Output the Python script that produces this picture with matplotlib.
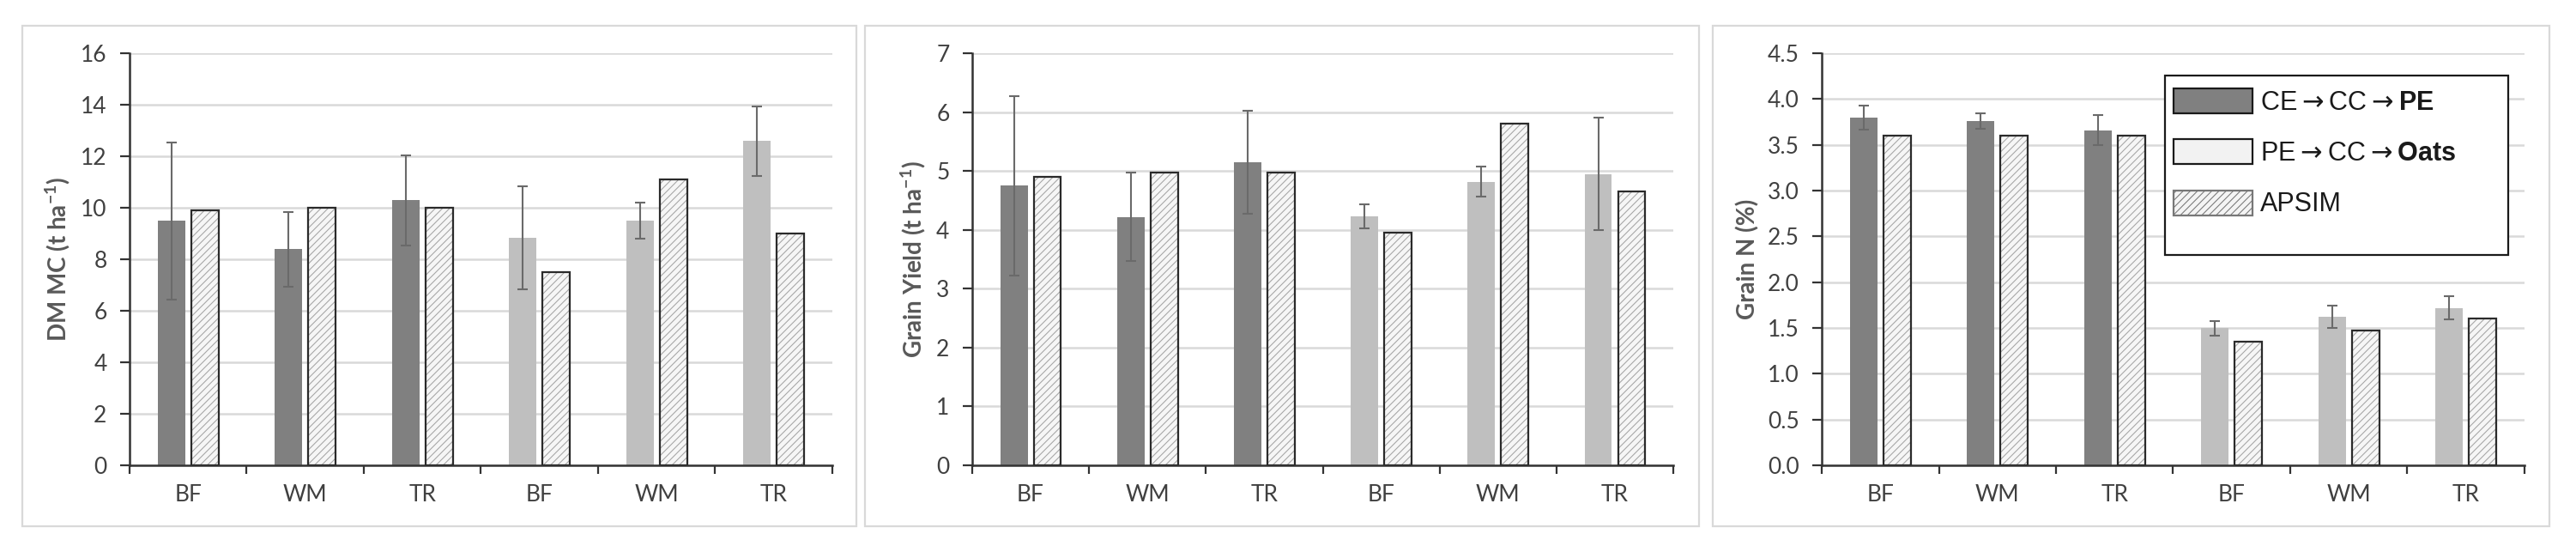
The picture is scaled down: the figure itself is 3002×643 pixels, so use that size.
import matplotlib
matplotlib.use("Agg")
import matplotlib.pyplot as plt
from matplotlib.patches import Patch, Rectangle
from matplotlib.ticker import FormatStrFormatter, MultipleLocator
import numpy as np

plt.rcParams["font.family"] = ["Lato", "DejaVu Sans"]
plt.rcParams["mathtext.default"] = "regular"
plt.rcParams["mathtext.fontset"] = "custom"
plt.rcParams["mathtext.bf"] = "Liberation Sans:bold"
plt.rcParams["mathtext.rm"] = "Liberation Sans"
plt.rcParams["mathtext.sf"] = "DejaVu Sans"
plt.rcParams["hatch.linewidth"] = 0.75

categories = ["BF", "WM", "TR", "BF", "WM", "TR"]

# DM MC (t/ha)
dm_measured = [9.5, 8.4, 10.3, 8.85, 9.5, 12.6]
dm_error = [3.05, 1.45, 1.75, 2.0, 0.7, 1.35]
dm_apsim = [9.9, 10.0, 10.0, 7.5, 11.1, 9.0]

# Grain yield (t/ha)
gy_measured = [4.75, 4.22, 5.15, 4.23, 4.82, 4.95]
gy_error = [1.52, 0.75, 0.87, 0.21, 0.25, 0.96]
gy_apsim = [4.9, 4.98, 4.98, 3.95, 5.8, 4.65]

# Grain N (%)
gn_measured = [3.8, 3.76, 3.66, 1.5, 1.62, 1.72]
gn_error = [0.13, 0.085, 0.165, 0.08, 0.12, 0.13]
gn_apsim = [3.6, 3.6, 3.6, 1.35, 1.47, 1.6]

legend_labels = [r"CE$\mathsf{\rightarrow}$CC$\mathsf{\rightarrow}\mathbf{PE}$",
                 r"PE$\mathsf{\rightarrow}$CC$\mathsf{\rightarrow}\mathbf{Oats}$",
                 "APSIM"]

DARK = "#808080"
LIGHT = "#bfbfbf"
bar_colors = [DARK] * 3 + [LIGHT] * 3
TEXT = "#404040"
AXIS = "#333333"

fig = plt.figure(figsize=(30.02, 6.43), dpi=100)

# panel frames (figure coords)
for fx, fw in [(0.0087, 0.3238), (0.3358, 0.3238), (0.6649, 0.3248)]:
    fig.add_artist(Rectangle((fx, 0.0467), fw, 0.9067, transform=fig.transFigure,
                             fill=False, edgecolor="#d9d9d9", lw=1.6))

panels = [
    (0.0503, 0.2728, dm_measured, dm_error, dm_apsim, 16, 2, "%d", r"DM MC (t ha$^{-1}$)"),
    (0.3774, 0.2722, gy_measured, gy_error, gy_apsim, 7, 1, "%d", r"Grain Yield (t ha$^{-1}$)"),
    (0.7072, 0.2728, gn_measured, gn_error, gn_apsim, 4.5, 0.5, "%.1f", "Grain N (%)"),
]

x = np.arange(len(categories))
w = 0.234
off = 0.143

axes = []
for left, width, meas, err, apsim, ymax, step, fmt, ylabel in panels:
    ax = fig.add_axes([left, 0.157, width, 0.7465])
    axes.append(ax)
    ax.bar(x - off, meas, width=w, color=bar_colors, zorder=2)
    ax.errorbar(x - off, meas, yerr=err, fmt="none", ecolor="#6a6a6a",
                elinewidth=1.5, capsize=4.2, capthick=1.5, zorder=3)
    # hatched APSIM bars: hatch in grey, outline dark
    ax.bar(x + off, apsim, width=w, color="#f6f6f6", edgecolor="#a4a4a4",
           hatch="////", lw=0, zorder=2)
    ax.bar(x + off, apsim, width=w, fill=False, edgecolor="#2a2a2a", lw=1.6, zorder=3)

    ax.set_xlim(-0.5, len(categories) - 0.5)
    ax.set_ylim(0, ymax)
    ax.yaxis.set_major_locator(MultipleLocator(step))
    ax.yaxis.set_major_formatter(FormatStrFormatter(fmt))
    ax.set_xticks(x)
    ax.set_xticklabels(categories)
    ax.set_xticks(np.arange(-0.5, len(categories)), minor=True)
    ax.tick_params(axis="x", which="major", length=0, pad=16, labelsize=19, labelcolor=TEXT)
    ax.tick_params(axis="x", which="minor", length=7, width=1.6, color=AXIS, direction="out")
    ax.tick_params(axis="y", length=8, width=1.6, color=AXIS, pad=11, labelsize=19,
                   labelcolor=TEXT, direction="out")
    for s in ["top", "right"]:
        ax.spines[s].set_visible(False)
    for s in ["left", "bottom"]:
        ax.spines[s].set_color(AXIS)
        ax.spines[s].set_linewidth(1.8)
    ax.yaxis.grid(True, color="#d9d9d9", lw=1.8)
    ax.set_axisbelow(True)
    ax.set_ylabel(ylabel, fontsize=20, fontweight="bold", color="#595959", labelpad=7)

# legend in the Grain N panel
ax3 = axes[2]
ax3.add_patch(Rectangle((0.488, 0.51), 0.489, 0.436, transform=ax3.transAxes,
                        facecolor="white", edgecolor="#1a1a1a", lw=1.6, zorder=4))
handles = [
    Patch(facecolor=DARK, edgecolor="#1a1a1a", lw=1.6),
    Patch(facecolor="#f2f2f2", edgecolor="#1a1a1a", lw=1.6),
    Patch(facecolor="#f4f4f4", edgecolor="#777777", hatch="////", lw=1.6),
]
leg = ax3.legend(handles, legend_labels, loc="upper left", bbox_to_anchor=(0.48, 0.95),
                 borderaxespad=0, borderpad=0.55, frameon=False,
                 prop={"family": ["Liberation Sans", "DejaVu Sans"], "size": 22},
                 handlelength=3.0, handleheight=1.08, handletextpad=0.3, labelspacing=0.9)
leg.set_zorder(6)
for t in leg.get_texts():
    t.set_color("#1a1a1a")

fig.savefig("out.png", dpi=100)
